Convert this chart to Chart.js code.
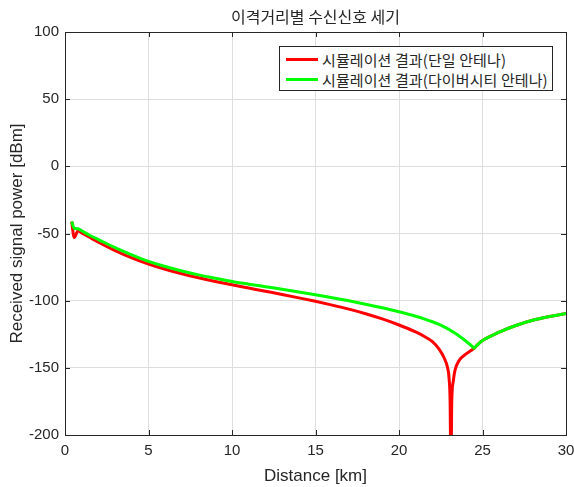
<!DOCTYPE html>
<html>
<head>
<meta charset="utf-8">
<script src="https://cdn.jsdelivr.net/npm/chart.js@4.4.0/dist/chart.umd.min.js"></script>
<style>
  body { margin: 0; background: #fff; }
  #wrap { position: relative; width: 574px; height: 487px; }
  #title { position: absolute; left: 65px; width: 501px; top: 6px; text-align: center;
           font-family: "Noto Sans CJK KR", sans-serif; font-size: 16px; line-height: 20px; color: #262626; }
  #legend { position: absolute; left: 279px; top: 46px; width: 272px; height: 43px;
            background: #fff; border: 1px solid #262626; }
  .row { position: absolute; left: 0; height: 20px; width: 100%; }
  .swatch { position: absolute; left: 6px; top: 8px; width: 32px; height: 3px; }
  .txt { position: absolute; left: 42px; top: 0; font-family: "Noto Sans CJK KR", sans-serif;
         font-size: 15px; letter-spacing: 0.1px; line-height: 20px; color: #262626; white-space: nowrap; }
</style>
</head>
<body>
<div id="wrap">
  <canvas id="chart" width="574" height="487"></canvas>
  <div id="title"></div>
  <div id="legend"></div>
</div>
<script>
const chartTitle = "이격거리별 수신신호 세기";
const legendLabels = ["시뮬레이션 결과(단일 안테나)", "시뮬레이션 결과(다이버시티 안테나)"];
const lineColors = ["#ff0000", "#00ff00"];

const xTicks = [0, 5, 10, 15, 20, 25, 30];
const yTicks = [-200, -150, -100, -50, 0, 50, 100];

// distance [km]
const distance = [0.4, 0.55, 0.78, 1, 1.5, 2,
  3, 4, 5, 6, 7, 8, 9, 10, 11, 12, 13, 14, 15, 16, 17, 18, 19, 20,
  21, 21.5, 22, 22.4, 22.7, 22.9,
  23.0, 23.06, 23.11, 23.16, 23.25, 23.35, 23.6,
  24, 24.4, 24.5, 24.6,
  25, 26, 27, 28, 29, 30];

// received power [dBm], single antenna
const singleAntenna = [-41, -53, -48, -49.5, -53, -56.5,
  -62.7, -68.1, -72.7, -76.6, -80.0, -83.0, -85.7, -88.2, -90.6, -93.0, -95.4, -97.9, -100.5, -103.3, -106.3, -109.7, -113.6, -118.1,
  -123.3, -126.5, -130.5, -136, -142.5, -149.5,
  -158, -175, -230, -175, -160, -152, -144.5,
  -139.8, -136.3, -135.5, -134.1,
  -129.7, -123.4, -118.5, -114.6, -111.8, -109.5];

// received power [dBm], diversity antenna
const diversityAntenna = [-41, -46, -46.5, -48, -51.5, -54.5,
  -60.5, -65.9, -70.7, -74.6, -77.9, -80.8, -83.3, -85.7, -87.7, -89.6, -91.5, -93.5, -95.6, -97.8, -100.1, -102.6, -105.3, -108.3,
  -111.6, -113.5, -115.7, -117.7, -119.5, -120.8,
  -121.5, -121.9, -122.3, -122.7, -123.4, -124.2, -126.3,
  -130, -134.2, -135.5, -134.1,
  -129.7, -123.4, -118.5, -114.6, -111.8, -109.5];

document.getElementById("title").innerText = chartTitle;
const legend = document.getElementById("legend");
legendLabels.forEach((lbl, i) => {
  const row = document.createElement("div");
  row.className = "row";
  row.style.top = (3 + i * 19.5) + "px";
  row.innerHTML = `<div class="swatch" style="background:${lineColors[i]}"></div><div class="txt">${lbl}</div>`;
  legend.appendChild(row);
});

const axisFont = '"Liberation Sans", Arial, sans-serif';
const dark = "#262626";

// box around the axes + inward ticks like matlab
const boxPlugin = {
  id: "box",
  afterDraw(chart) {
    const { ctx, chartArea: a, scales } = chart;
    ctx.save();
    ctx.strokeStyle = dark;
    ctx.lineWidth = 1;
    ctx.beginPath();
    xTicks.forEach(v => {
      const px = Math.round(scales.x.getPixelForValue(v)) + 0.5;
      ctx.moveTo(px, a.bottom); ctx.lineTo(px, a.bottom - 5);
      ctx.moveTo(px, a.top); ctx.lineTo(px, a.top + 5);
    });
    yTicks.forEach(v => {
      const py = Math.round(scales.y.getPixelForValue(v)) + 0.5;
      ctx.moveTo(a.left, py); ctx.lineTo(a.left + 5, py);
      ctx.moveTo(a.right, py); ctx.lineTo(a.right - 5, py);
    });
    ctx.stroke();
    ctx.strokeRect(Math.round(a.left) + 0.5, Math.round(a.top) + 0.5, Math.round(a.right - a.left), Math.round(a.bottom - a.top));
    ctx.restore();
  }
};

const mkData = ys => distance.map((d, i) => ({ x: d, y: ys[i] }));

const chart = new Chart(document.getElementById("chart").getContext("2d"), {
  type: "line",
  data: {
    datasets: [
      { label: legendLabels[0], data: mkData(singleAntenna), borderColor: lineColors[0], borderWidth: 3,
        pointRadius: 0, cubicInterpolationMode: "monotone", order: 1, clip: 0 },
      { label: legendLabels[1], data: mkData(diversityAntenna), borderColor: lineColors[1], borderWidth: 3,
        pointRadius: 0, cubicInterpolationMode: "monotone", order: 0, clip: 0 }
    ]
  },
  options: {
    responsive: false,
    animation: false,
    devicePixelRatio: 1,
    layout: { padding: { top: 32, right: 8, left: 0, bottom: 0 } },
    plugins: { legend: { display: false }, tooltip: { enabled: false } },
    scales: {
      x: {
        type: "linear", min: 0, max: 30,
        afterBuildTicks: s => { s.ticks = xTicks.map(v => ({ value: v })); },
        afterFit: s => { s.height = 52; s.paddingLeft = 0; s.paddingRight = 0; },
        grid: { color: "#dedede", lineWidth: 1, drawTicks: false },
        border: { color: dark, width: 1 },
        ticks: { font: { family: axisFont, size: 15 }, color: dark, padding: 7, maxRotation: 0, autoSkip: false },
        title: { display: true, text: "Distance [km]", font: { family: axisFont, size: 17 }, color: dark,
                 padding: { top: 0, bottom: 0 } }
      },
      y: {
        type: "linear", min: -200, max: 100,
        afterBuildTicks: s => { s.ticks = yTicks.map(v => ({ value: v })); },
        afterFit: s => { s.width = 65; s.paddingTop = 0; s.paddingBottom = 0; },
        grid: { color: "#dedede", lineWidth: 1, drawTicks: false },
        border: { color: dark, width: 1 },
        ticks: { font: { family: axisFont, size: 15 }, color: dark, padding: 6, autoSkip: false },
        title: { display: true, text: "Received signal power [dBm]", font: { family: axisFont, size: 17 }, color: dark,
                 padding: { top: 7, bottom: 0 } }
      }
    }
  },
  plugins: [boxPlugin]
});
</script>
</body>
</html>
